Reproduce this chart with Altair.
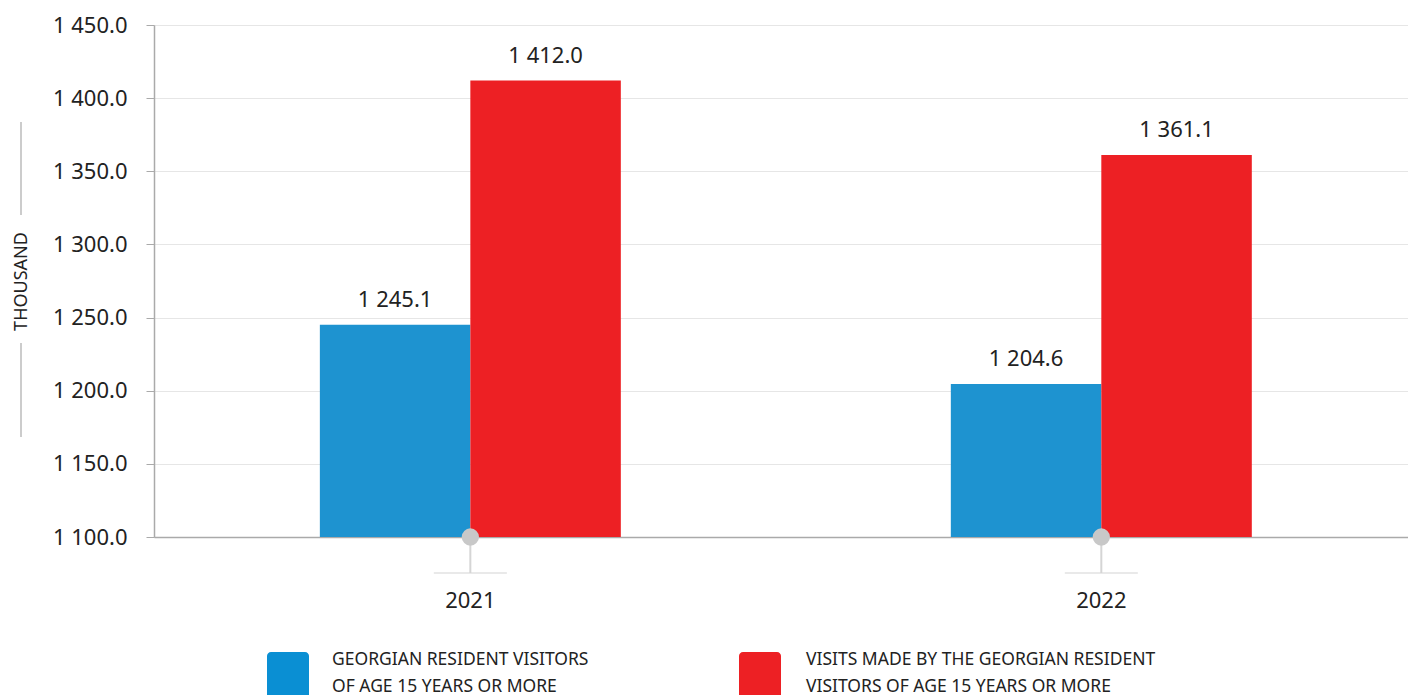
import altair as alt
import pandas as pd

years = ["2021", "2022"]
series_keys = ["visitors", "visits"]
visitors = [1245.1, 1204.6]
visits = [1412.0, 1361.1]
y_ticks = [1100, 1150, 1200, 1250, 1300, 1350, 1400, 1450]
colors = ["#1E93D0", "#ED2024"]
legend_colors = ["#0A8FD3", "#ED2024"]
legend_line1 = ["GEORGIAN RESIDENT VISITORS", "VISITS MADE BY THE GEORGIAN RESIDENT"]
legend_line2 = ["OF AGE 15 YEARS OR MORE", "VISITORS OF AGE 15 YEARS OR MORE"]

rows = []
for i, yr in enumerate(years):
    rows.append({"year": yr, "series": "visitors", "value": visitors[i]})
    rows.append({"year": yr, "series": "visits", "value": visits[i]})
df = pd.DataFrame(rows)
df_years = pd.DataFrame({"year": years})

FONT = "Noto Sans"
TXT = "#222222"
GRAY = "#aaaaaa"

xscale = alt.Scale(domain=years, paddingInner=0.523, paddingOuter=0.2552, align=0.515)
yscale = alt.Scale(domain=[1100, 1450], nice=False, zero=False)

xaxis = alt.Axis(title=None, domain=True, domainColor=GRAY, domainWidth=1.5, ticks=False,
                 labelAngle=0, labelFontSize=22, labelFont=FONT, labelColor=TXT,
                 labelPadding=53, grid=False)
yaxis = alt.Axis(values=y_ticks, labelExpr="replace(format(datum.value, ',.1f'), ',', ' ')",
                 title="THOUSAND", titleFont=FONT, titleFontSize=18, titleFontWeight="normal",
                 titleColor=TXT, titleX=-133, titleY=256, titleBaseline="middle", titleAngle=-90,
                 titleAlign="center",
                 labelFont=FONT, labelFontSize=22, labelColor=TXT, labelPadding=19,
                 domainColor=GRAY, domainWidth=1.5, tickColor=GRAY, tickSize=8,
                 gridColor="#e6e6e6", grid=True)

base = alt.Chart(df)
bars = base.mark_bar().encode(
    x=alt.X("year:N", scale=xscale, axis=xaxis),
    xOffset=alt.XOffset("series:N", sort=series_keys,
                        scale=alt.Scale(paddingInner=0, paddingOuter=0)),
    y=alt.Y("value:Q", scale=yscale, axis=yaxis),
    y2=alt.Y2(datum=1100),
    color=alt.Color("series:N", scale=alt.Scale(domain=series_keys, range=colors), legend=None),
)

labels = base.transform_calculate(
    label="replace(format(datum.value, ',.1f'), ',', ' ')"
).mark_text(font=FONT, fontSize=22, color=TXT, baseline="alphabetic", dy=-18).encode(
    x=alt.X("year:N", scale=xscale),
    xOffset=alt.XOffset("series:N", sort=series_keys,
                        scale=alt.Scale(paddingInner=0, paddingOuter=0)),
    y=alt.Y("value:Q", scale=yscale),
    text="label:N",
)

ybase = alt.Chart(df_years)
vline = ybase.mark_rule(color="#d5d5d5", strokeWidth=2).encode(
    x=alt.X("year:N", scale=xscale), y=alt.value(512), y2=alt.value(548))
hline = ybase.mark_tick(color="#d5d5d5", orient="horizontal", size=73, thickness=1.5).encode(
    x=alt.X("year:N", scale=xscale), y=alt.value(548))
dots = ybase.mark_circle(color="#c8c8c8", size=300, opacity=1).encode(
    x=alt.X("year:N", scale=xscale), y=alt.value(512))

# y title decoration lines
tl1 = ybase.transform_filter("datum.year == '2021'").mark_rule(color=GRAY, strokeWidth=1.2).encode(
    x=alt.value(-133), y=alt.value(97), y2=alt.value(190))
tl2 = ybase.transform_filter("datum.year == '2021'").mark_rule(color=GRAY, strokeWidth=1.2).encode(
    x=alt.value(-133), y=alt.value(318), y2=alt.value(412))

# legend
leg = pd.DataFrame({"series": series_keys, "l1": legend_line1, "l2": legend_line2})
lb = alt.Chart(leg)
legend_layers = []
for i, (rx, tx) in enumerate([(113, 178), (585, 652)]):
    sub = lb.transform_filter(f"datum.series == '{series_keys[i]}'")
    legend_layers.append(sub.mark_rect(cornerRadius=4).encode(
        x=alt.value(rx), x2=alt.value(rx + 42), y=alt.value(627), y2=alt.value(690),
        color=alt.Color("series:N", scale=alt.Scale(domain=series_keys, range=colors), legend=None),
        fill=alt.value(legend_colors[i])))
    legend_layers.append(sub.mark_text(font=FONT, fontSize=17.5, color=TXT, align="left",
                                       baseline="alphabetic").encode(
        x=alt.value(tx), y=alt.value(640), text="l1:N"))
    legend_layers.append(sub.mark_text(font=FONT, fontSize=17.5, color=TXT, align="left",
                                       baseline="alphabetic").encode(
        x=alt.value(tx), y=alt.value(667), text="l2:N"))

chart = alt.layer(bars, labels, vline, hline, dots, tl1, tl2, *legend_layers).properties(
    width=1254, height=512,
    autosize=alt.AutoSizeParams(type="none"),
    padding={"left": 154, "top": 25, "right": 0, "bottom": 158},
).configure_view(stroke=None).configure(background="white")

chart.save("out.html", embed_options={"renderer": "svg", "actions": False})
